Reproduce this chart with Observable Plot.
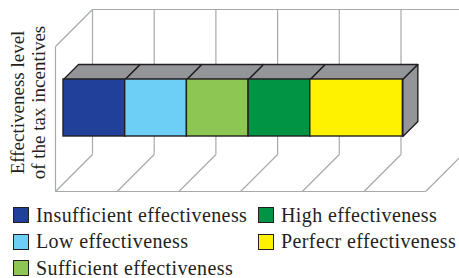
<!DOCTYPE html>
<html>
<head>
<meta charset="utf-8">
<script src="https://cdn.jsdelivr.net/npm/d3@7"></script>
<script src="https://cdn.jsdelivr.net/npm/@observablehq/plot@0.6"></script>
<style>
  html, body { margin: 0; padding: 0; background: #fff; }
  #chart svg { display: block; }
  .legend {
    display: grid;
    grid-template-columns: 245px auto;
    grid-template-rows: repeat(3, 26.5px);
    grid-auto-flow: column;
    margin-left: 13px;
    padding-top: 2px;
    font-family: "Liberation Serif", serif;
    font-size: 20px;
    letter-spacing: 0.4px;
    color: #231f20;
  }
  .item { display: flex; align-items: center; white-space: nowrap; }
  .sw { width: 14px; height: 14px; border: 1px solid #231f20; margin-right: 7px; flex: none; }
</style>
</head>
<body>
<div id="chart"></div>
<div class="legend" id="legend"></div>
<script>
// ---- data ----
const categories = ["Insufficient effectiveness", "Low effectiveness", "Sufficient effectiveness", "High effectiveness", "Perfecr effectiveness"];
const values = [1, 1, 1, 1, 1.5];
const colors = ["#21409a", "#6dcff6", "#8dc653", "#009444", "#fff200"];
const gridValues = [0, 1, 2, 3, 4, 5, 6];
const yTitle = "Effectiveness level\nof the tax incentives";

// ---- layout constants (pseudo-3D projection) ----
const ux = 61.7;          // px per value unit
const DB = 37;            // depth of back wall (px)
const D1 = 8, D2 = 23;    // bar front/back depth
const YB = 47, YT = 104;  // bar bottom/top height
const WALL = 145;         // wall height
const P = (v, h, d) => ({x: v + d / ux, y: h + d});

// stacked segments
let cum = 0;
const segs = categories.map((c, i) => {
  const s = {cat: c, start: cum, end: cum + values[i], i};
  cum += values[i];
  return s;
});

// grid links
const links = [];
for (const v of gridValues) {
  const a = P(v, 0, DB), b = P(v, WALL, DB);
  links.push({x1: a.x, y1: a.y, x2: b.x, y2: b.y}); // back vertical
  const f = P(v, 0, 0);
  links.push({x1: f.x, y1: f.y, x2: a.x, y2: a.y}); // floor diagonal
}
{
  const g0 = gridValues[0], g1 = gridValues[gridValues.length - 1];
  const t0 = P(g0, WALL, DB), t1 = P(g1, WALL, DB);
  links.push({x1: t0.x, y1: t0.y, x2: t1.x, y2: t1.y}); // back top
  const f0 = P(g0, 0, 0), f1 = P(g1, 0, 0), fw = P(g0, WALL, 0);
  links.push({x1: f0.x, y1: f0.y, x2: f1.x, y2: f1.y}); // front floor
  links.push({x1: f0.x, y1: f0.y, x2: fw.x, y2: fw.y}); // left wall front
  links.push({x1: fw.x, y1: fw.y, x2: t0.x, y2: t0.y}); // left wall top diagonal
}

// top faces
const tops = [];
for (const s of segs) {
  [P(s.start, YT, D1), P(s.end, YT, D1), P(s.end, YT, D2), P(s.start, YT, D2), P(s.start, YT, D1)]
    .forEach(p => tops.push({...p, z: s.i}));
}
// side face of last segment
const last = segs[segs.length - 1];
const side = [P(last.end, YB, D1), P(last.end, YT, D1), P(last.end, YT, D2), P(last.end, YB, D2), P(last.end, YB, D1)];

const gridColor = "#a7a9ac";
const ink = "#231f20";

const chart = Plot.plot({
  width: 459,
  height: 200,
  margin: 0,
  style: {background: "#fff", overflow: "hidden"},
  x: {domain: [0, 6], range: [55, 55 + 6 * ux], axis: null},
  y: {domain: [0, WALL], range: [191, 191 - WALL], axis: null},
  color: {domain: categories, range: colors},
  marks: [
    Plot.link(links, {x1: "x1", y1: "y1", x2: "x2", y2: "y2", stroke: gridColor, strokeWidth: 1.2}),
    Plot.line(tops, {x: "x", y: "y", z: "z", fill: "#939598", stroke: ink, strokeWidth: 1.4, strokeLinejoin: "round"}),
    Plot.line(side, {x: "x", y: "y", fill: "#939598", stroke: ink, strokeWidth: 1.4, strokeLinejoin: "round"}),
    Plot.rect(segs, {x1: d => d.start + D1 / ux, x2: d => d.end + D1 / ux, y1: YB + D1, y2: YT + D1, fill: "cat", stroke: ink, strokeWidth: 1.4}),
    Plot.text([yTitle], {frameAnchor: "left", rotate: -90, dx: 27, dy: 2, text: d => d, fontSize: 19, fontFamily: "Liberation Serif", fill: ink, lineAnchor: "middle", textAnchor: "middle", lineHeight: 1.12, style: "letter-spacing:0.3px"})
  ]
});
document.getElementById("chart").appendChild(chart);

const lg = document.getElementById("legend");
categories.forEach((c, i) => {
  const it = document.createElement("div");
  it.className = "item";
  const sw = document.createElement("span");
  sw.className = "sw";
  sw.style.background = colors[i];
  const t = document.createElement("span");
  t.textContent = c;
  it.appendChild(sw);
  it.appendChild(t);
  lg.appendChild(it);
});
</script>
</body>
</html>
